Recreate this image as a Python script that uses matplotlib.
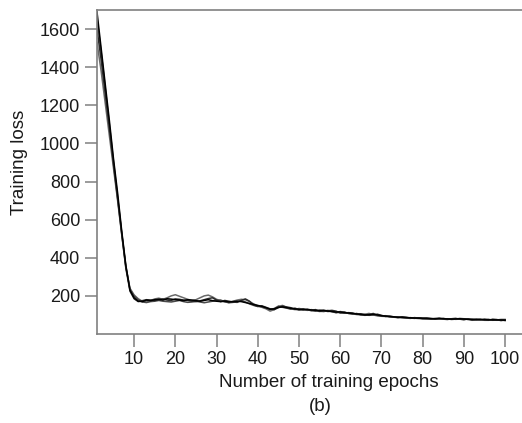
import matplotlib
matplotlib.use("Agg")
import matplotlib.pyplot as plt
import numpy as np

plt.rcParams['font.family'] = ['Liberation Sans', 'DejaVu Sans']

run_a = [1690,1500,1310,1120,920,740,540,360,230,190,
         172,170,178,175,180,182,178,185,183,180,
         178,175,180,178,175,172,176,180,175,172,
         170,172,168,170,172,170,165,160,155,150,
         145,138,130,132,140,142,138,135,132,130,
         128,130,126,124,122,125,120,118,115,116,
         112,110,108,105,103,100,102,104,100,96,
         94,92,90,88,88,86,85,84,83,82,
         82,80,80,81,80,79,78,79,80,78,
         77,76,77,76,75,74,75,74,73,72]
run_b = [1530,1380,1210,1040,870,700,520,350,240,205,
         185,172,168,176,184,188,182,190,200,206,
         198,190,182,176,180,190,200,204,195,182,
         175,168,165,172,178,182,180,170,158,148,
         140,132,120,128,145,150,140,132,128,134,
         130,124,128,122,118,120,124,116,112,118,
         114,108,106,102,100,104,108,100,95,93,
         92,90,88,86,85,84,86,83,81,80,
         78,80,82,79,78,80,76,78,82,80,
         76,74,78,75,73,76,74,72,74,70]
run_c = [1660,1480,1290,1100,905,720,530,355,235,200,
         180,168,165,170,172,176,172,170,168,172,
         176,170,166,168,172,168,164,168,172,176,
         178,170,164,166,170,174,168,158,150,146,
         142,136,128,134,146,140,136,130,136,128,
         126,128,122,120,126,122,118,120,112,114,
         116,108,104,108,100,98,100,108,98,94,
         96,90,88,90,86,84,82,86,84,80,
         80,78,80,84,78,76,80,77,78,74,
         80,72,74,78,72,72,78,76,70,74]
run_d = [1600,1440,1260,1080,890,710,525,345,225,185,
         170,175,180,178,176,180,184,178,176,184,
         182,178,176,172,170,174,180,186,190,178,
         170,176,172,168,166,176,184,172,152,144,
         148,140,132,128,138,146,142,138,130,126,
         132,126,124,128,120,118,122,124,120,110,
         110,112,110,104,106,102,98,100,104,98,
         92,94,90,86,90,88,84,82,85,84,
         84,82,78,80,82,78,80,82,78,80,
         78,78,74,74,78,76,72,74,76,76]

runs = [run_b, run_c, run_d, run_a]
run_colors = ['#6a6a6a', '#4a4a4a', '#2a2a2a', '#000000']

x_ticks = [10, 20, 30, 40, 50, 60, 70, 80, 90, 100]
y_ticks = [200, 400, 600, 800, 1000, 1200, 1400, 1600]

fig = plt.figure(figsize=(5.22, 4.23), dpi=100)
ax = fig.add_axes([97/522, 89/423, 425/522, 324/423])

for vals, col in zip(runs, run_colors):
    ep = np.arange(1, len(vals) + 1)
    ax.plot(ep, vals, color=col, lw=1.1)

ax.set_xlim(1, 104.1)
ax.set_ylim(0, 1700)
ax.set_xticks(x_ticks)
ax.set_yticks(y_ticks)
ax.spines['right'].set_visible(False)
for s in ['left', 'bottom', 'top']:
    ax.spines[s].set_color('#808080')
    ax.spines[s].set_linewidth(1.2)
ax.tick_params(direction='out', length=9, width=1.1, color='#808080',
               labelsize=13, labelcolor='#1a1a1a', pad=3)

fig.text(20/522, 1 - 162/423, 'Training loss', rotation=90, ha='center', va='center',
         fontsize=13.5, color='#1a1a1a')
fig.text(329/522, 1 - 382/423, 'Number of training epochs', ha='center', va='center',
         fontsize=13.5, color='#1a1a1a')
fig.text(320/522, 1 - 406/423, '(b)', ha='center', va='center',
         fontsize=13.5, color='#1a1a1a')

fig.savefig('out.png', dpi=100)
